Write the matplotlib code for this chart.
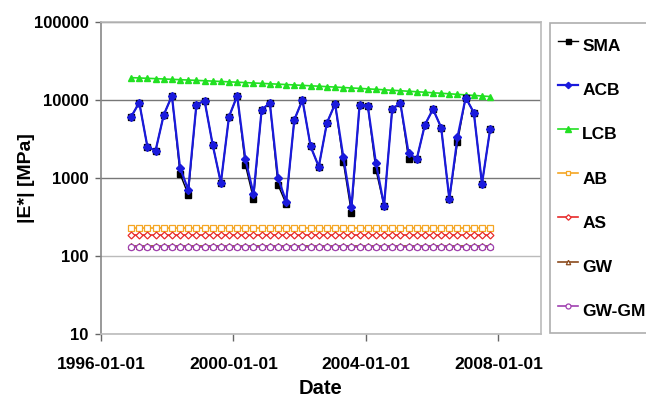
import numpy as np
import pandas as pd
import matplotlib
matplotlib.use("Agg")
import matplotlib.pyplot as plt
from matplotlib.ticker import FixedLocator, NullLocator

plt.rcParams['font.family'] = ['Liberation Sans', 'DejaVu Sans']

# ---- data ----
dates = pd.date_range('1996-11-28', periods=45, freq='90D')

acb = [6050, 9230, 2490, 2230, 6420, 11250, 1340, 700, 8630, 9800,
       2645, 860, 6100, 11250, 1750, 620, 7440, 9150, 1000, 495,
       5540, 10000, 2520, 1390, 5070, 8880, 1870, 423, 8630, 8450,
       1550, 440, 7660, 9070, 2090, 1730, 4775, 7600, 4410, 531,
       3320, 10700, 6870, 835, 4210]

sma = [6050, 9230, 2490, 2230, 6420, 11250, 1120, 608, 8630, 9800,
       2645, 860, 6100, 11250, 1465, 536, 7440, 9150, 811, 462,
       5540, 10000, 2520, 1390, 5070, 8880, 1614, 354, 8630, 8450,
       1263, 440, 7660, 9070, 1750, 1730, 4775, 7600, 4410, 531,
       2865, 10700, 6870, 835, 4210]

lcb = [19300, 19110, 18920, 18740, 18550, 18360, 18170, 17980, 17800, 17610,
       17420, 17230, 17040, 16860, 16670, 16480, 16290, 16100, 15920, 15730,
       15540, 15350, 15160, 14980, 14790, 14600, 14410, 14220, 14040, 13850,
       13660, 13470, 13280, 13100, 12910, 12720, 12530, 12340, 12160, 11970,
       11780, 11590, 11400, 11220, 11030]

ab_value = 225
as_value = 182
gw_value = 131
gwgm_value = 130

y_ticks = [10, 100, 1000, 10000, 100000]
x_ticks = ['1996-01-01', '2000-01-01', '2004-01-01', '2008-01-01']

n = len(dates)

fig = plt.figure(figsize=(6.46, 3.99), dpi=100)
ax = fig.add_axes([101/646, 1-333.5/399, 440/646, 311.5/399])

ax.plot(dates, np.full(n, ab_value), color='#f5a623', lw=1.2, marker='s', ms=4,
        mfc='white', mec='#f5a623', mew=0.9, label='AB', zorder=3)
ax.plot(dates, np.full(n, as_value), color='#e82a2a', lw=1.2, marker='D', ms=3.5,
        mfc='white', mec='#e82a2a', mew=0.9, label='AS', zorder=3)
ax.plot(dates, np.full(n, gw_value), color='#8b4a1c', lw=1.2, marker='^', ms=4,
        mfc='white', mec='#8b4a1c', mew=0.9, label='GW', zorder=3)
ax.plot(dates, np.full(n, gwgm_value), color='#a040b0', lw=1.2, marker='o', ms=4.5,
        mfc='white', mec='#a040b0', mew=0.9, label='GW-GM', zorder=3)
ax.plot(dates, lcb, color='#22e022', lw=1.2, marker='^', ms=5,
        mfc='#22e022', mec='#22e022', label='LCB', zorder=4)
ax.plot(dates, sma, color='black', lw=1.0, marker='s', ms=4.5,
        mfc='black', mec='black', label='SMA', zorder=4)
ax.plot(dates, acb, color='#1a1adc', lw=1.6, marker='D', ms=4,
        mfc='#1a1adc', mec='#1a1adc', label='ACB', zorder=5)

ax.set_yscale('log')
ax.set_ylim(10, 100000)
ax.yaxis.set_major_locator(FixedLocator(y_ticks))
ax.yaxis.set_minor_locator(NullLocator())
ax.set_yticklabels([str(v) for v in y_ticks], fontsize=12, fontweight='bold')

ax.set_xlim(pd.Timestamp('1996-01-01'), pd.Timestamp('2009-04-15'))
xt = [pd.Timestamp(t) for t in x_ticks]
ax.set_xticks(xt)
ax.set_xticklabels(x_ticks, fontsize=12.5, fontweight='bold')
ax.tick_params(axis='x', length=5, width=1, color='#666666', pad=12, direction='out')
ax.tick_params(axis='y', length=4, width=1, color='#666666', pad=5)

ax.grid(axis='y', color='#777777', lw=1.0)
gl = ax.get_ygridlines()
for g, v in zip(gl, y_ticks):
    if v <= 100:
        g.set_color('#bbbbbb')
ax.set_axisbelow(True)

for s in ['top', 'right', 'bottom']:
    ax.spines[s].set_color('#bbbbbb')
    ax.spines[s].set_linewidth(1.2)
ax.spines['left'].set_color('#888888')
ax.spines['left'].set_linewidth(1.2)

ax.set_ylabel('|E*| [MPa]', fontsize=14, fontweight='bold', labelpad=-1)
ax.set_xlabel('Date', fontsize=14.5, fontweight='bold', labelpad=5)

handles, labels = ax.get_legend_handles_labels()
order = ['SMA', 'ACB', 'LCB', 'AB', 'AS', 'GW', 'GW-GM']
hmap = dict(zip(labels, handles))
leg = fig.legend([hmap[k] for k in order], order, loc='upper left',
                 bbox_to_anchor=(550/646, 1-23/399), bbox_transform=fig.transFigure,
                 prop={'weight': 'bold', 'size': 12.5},
                 handlelength=1.15, handletextpad=0.25, labelspacing=0.8,
                 handleheight=2.3, borderpad=0.45, borderaxespad=0,
                 frameon=True, fancybox=False, markerscale=0.8)
leg.get_frame().set_edgecolor('#999999')
leg.get_frame().set_linewidth(1.2)

fig.savefig('out.png', dpi=100)
